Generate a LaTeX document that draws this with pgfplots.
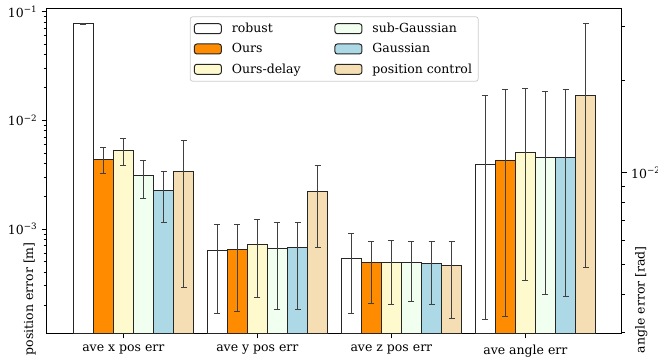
\documentclass[border=0pt]{standalone}
\usepackage{fontspec}
\setmainfont{DejaVu Serif}
\usepackage{pgfplots}
\usepackage{pgfplotstable}
\pgfplotsset{compat=1.18}

\definecolor{cOurs}{HTML}{FF8C00}
\definecolor{cDelay}{HTML}{FFFACD}
\definecolor{cSub}{HTML}{F0FFF0}
\definecolor{cGauss}{HTML}{ADD8E6}
\definecolor{cPC}{HTML}{F5DEB3}
\definecolor{cEdge}{HTML}{262626}

% x = bar position, y = mean, lo/hi = ends of the error bar
\pgfplotstableread{
x y lo hi
-0.30 0.0771 0.0760 0.0782
0.70 0.000638 0.000168 0.001096
1.70 0.000538 0.000168 0.000908
2.70 0.01062 0.00332 0.01786
}\robust
\pgfplotstableread{
x y lo hi
-0.15 0.00438 0.00324 0.00558
0.85 0.000648 0.000173 0.00111
1.85 0.000492 0.000207 0.000776
2.85 0.0110 0.00338 0.01873
}\ours
\pgfplotstableread{
x y lo hi
0.00 0.00527 0.00386 0.00675
1.00 0.000728 0.000236 0.00122
2.00 0.000492 0.000203 0.000782
3.00 0.01162 0.00444 0.01881
}\oursdelay
\pgfplotstableread{
x y lo hi
0.15 0.00309 0.00191 0.00425
1.15 0.000661 0.000183 0.00114
2.15 0.000495 0.000216 0.000776
3.15 0.01123 0.00401 0.01845
}\subgauss
\pgfplotstableread{
x y lo hi
0.30 0.00226 0.00115 0.00338
1.30 0.000675 0.000183 0.00116
2.30 0.000484 0.000204 0.000766
3.30 0.01125 0.00394 0.01864
}\gauss
\pgfplotstableread{
x y lo hi
0.45 0.00336 0.000288 0.00647
1.45 0.00223 0.000679 0.00382
2.45 0.000458 0.000151 0.000766
3.45 0.01787 0.00490 0.03076
}\poscontrol

\pgfplotsset{
  mybar/.style={ybar, bar width=0.15, bar shift=0pt, draw=cEdge, line width=0.8pt, fill=#1,
    legend image code/.code={\draw[##1] (0pt,-4pt) rectangle (21.6pt,4pt); \path (0pt,0pt) (27.6pt,0pt);},
    error bars/y dir=both, error bars/y explicit,
    error bars/error bar style={line width=0.8pt, draw=black!75},
    error bars/error mark options={rotate=90, black!75, mark size=2.4pt, line width=0.8pt}},
}

\begin{document}
\begin{tikzpicture}
\begin{axis}[
  at={(0,0)}, anchor=south west,
  scale only axis, width=460pt, height=260pt,
  ymode=log, log basis y=10, log origin y=infty,
  xmin=-0.572, xmax=3.719,
  tick align=outside,
  major tick length=4pt, minor tick length=2.4pt,
  every tick/.style={black, line width=0.7pt},
  axis line style={line width=0.8pt},
  tick label style={font=\fontsize{10}{12}\selectfont},
  label style={font=\fontsize{10}{12}\selectfont},
  xticklabel style={yshift=-2pt},
  ymin=1.098e-4, ymax=0.1074,
  xtick={0,1,2,3},
  xticklabels={ave x pos err, ave y pos err, ave z pos err, ave angle err},
  xtick pos=left, ytick pos=left,
  ytick={0.001,0.01,0.1},
  yticklabels={10\textsuperscript{−3},10\textsuperscript{−2},10\textsuperscript{−1}},
  minor ytick={2e-4,3e-4,4e-4,5e-4,6e-4,7e-4,8e-4,9e-4,2e-3,3e-3,4e-3,5e-3,6e-3,7e-3,8e-3,9e-3,2e-2,3e-2,4e-2,5e-2,6e-2,7e-2,8e-2,9e-2},
  ylabel={position error [m]},
  every axis y label/.style={at={(axis description cs:-0.0186,-0.0683)}, anchor=south west, rotate=90, inner sep=0pt},
]
\addplot[mybar=white, restrict x to domain=-1:2.55] table[x=x, y=y, y error plus expr=\thisrow{hi}-\thisrow{y}, y error minus expr=\thisrow{y}-\thisrow{lo}] {\robust};
\addplot[mybar=cOurs, restrict x to domain=-1:2.55] table[x=x, y=y, y error plus expr=\thisrow{hi}-\thisrow{y}, y error minus expr=\thisrow{y}-\thisrow{lo}] {\ours};
\addplot[mybar=cDelay, restrict x to domain=-1:2.55] table[x=x, y=y, y error plus expr=\thisrow{hi}-\thisrow{y}, y error minus expr=\thisrow{y}-\thisrow{lo}] {\oursdelay};
\addplot[mybar=cSub, restrict x to domain=-1:2.55] table[x=x, y=y, y error plus expr=\thisrow{hi}-\thisrow{y}, y error minus expr=\thisrow{y}-\thisrow{lo}] {\subgauss};
\addplot[mybar=cGauss, restrict x to domain=-1:2.55] table[x=x, y=y, y error plus expr=\thisrow{hi}-\thisrow{y}, y error minus expr=\thisrow{y}-\thisrow{lo}] {\gauss};
\addplot[mybar=cPC, restrict x to domain=-1:2.55] table[x=x, y=y, y error plus expr=\thisrow{hi}-\thisrow{y}, y error minus expr=\thisrow{y}-\thisrow{lo}] {\poscontrol};
\end{axis}
\begin{axis}[
  at={(0,0)}, anchor=south west,
  scale only axis, width=460pt, height=260pt,
  ymode=log, log basis y=10, log origin y=infty,
  xmin=-0.572, xmax=3.719,
  tick align=outside,
  major tick length=4pt, minor tick length=2.4pt,
  every tick/.style={black, line width=0.7pt},
  axis line style={line width=0.8pt},
  tick label style={font=\fontsize{10}{12}\selectfont},
  label style={font=\fontsize{10}{12}\selectfont},
  ymin=2.987e-3, ymax=0.03446,
  axis x line=none, axis y line*=right,
  y axis line style={-},
  ytick={0.01},
  yticklabels={10\textsuperscript{−2}},
  minor ytick={3e-3,4e-3,5e-3,6e-3,7e-3,8e-3,9e-3,2e-2,3e-2},
  ylabel={angle error [rad]},
  every axis y label/.style={at={(axis description cs:1.0449,-0.062)}, anchor=south west, rotate=90, inner sep=0pt},
  legend columns=2,
  legend cell align=left,
  legend style={at={(axis description cs:0.5,0.975)}, anchor=north,
    draw=black!20, rounded corners=2pt, fill=white, line width=0.6pt,
    font=\fontsize{10}{12}\selectfont, inner ysep=3pt,
    row sep=3.2pt},
]
\addplot[mybar=white, restrict x to domain=2.55:4] table[x=x, y=y, y error plus expr=\thisrow{hi}-\thisrow{y}, y error minus expr=\thisrow{y}-\thisrow{lo}] {\robust};
\addlegendentry{\makebox[80pt][l]{robust}}
\addplot[mybar=cSub, restrict x to domain=2.55:4] table[x=x, y=y, y error plus expr=\thisrow{hi}-\thisrow{y}, y error minus expr=\thisrow{y}-\thisrow{lo}] {\subgauss};
\addlegendentry{sub-Gaussian}
\addplot[mybar=cOurs, restrict x to domain=2.55:4] table[x=x, y=y, y error plus expr=\thisrow{hi}-\thisrow{y}, y error minus expr=\thisrow{y}-\thisrow{lo}] {\ours};
\addlegendentry{\makebox[80pt][l]{Ours}}
\addplot[mybar=cGauss, restrict x to domain=2.55:4] table[x=x, y=y, y error plus expr=\thisrow{hi}-\thisrow{y}, y error minus expr=\thisrow{y}-\thisrow{lo}] {\gauss};
\addlegendentry{Gaussian}
\addplot[mybar=cDelay, restrict x to domain=2.55:4] table[x=x, y=y, y error plus expr=\thisrow{hi}-\thisrow{y}, y error minus expr=\thisrow{y}-\thisrow{lo}] {\oursdelay};
\addlegendentry{\makebox[80pt][l]{Ours-delay}}
\addplot[mybar=cPC, restrict x to domain=2.55:4] table[x=x, y=y, y error plus expr=\thisrow{hi}-\thisrow{y}, y error minus expr=\thisrow{y}-\thisrow{lo}] {\poscontrol};
\addlegendentry{position control}
\end{axis}
\pgfresetboundingbox
\path[use as bounding box] (-37.36pt,-21.36pt) rectangle (489.04pt,266.64pt);
\end{tikzpicture}
\end{document}
